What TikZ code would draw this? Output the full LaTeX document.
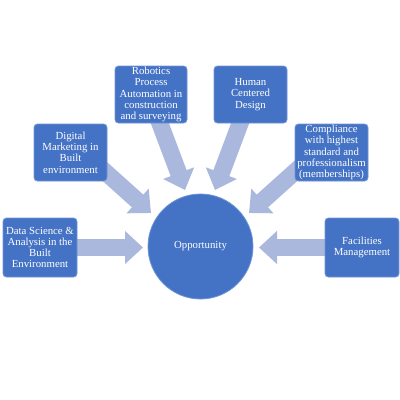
\documentclass[tikz,border=0pt]{standalone}
\usepackage{fontspec}
\setmainfont{Liberation Serif}
\usetikzlibrary{arrows.meta}
\definecolor{boxblue}{HTML}{4472C4}
\definecolor{boxedge}{HTML}{6F95D6}
\definecolor{arrowc}{HTML}{A9B8DC}
\tikzset{
  box/.style={draw=boxedge, line width=0.8pt, fill=boxblue, rounded corners=3.5pt,
    text=white, align=center, inner sep=0pt, font=\fontsize{10.8}{11.3}\selectfont},
  hub/.style={circle, draw=boxedge, line width=0.8pt, fill=boxblue, text=white,
    minimum size=105pt, inner sep=0pt, font=\fontsize{10.8}{12}\selectfont},
  fat/.style={draw=arrowc, line width=17pt, -{Triangle[width=32pt,length=18pt]}},
}
\begin{document}
\begin{tikzpicture}[x=1pt,y=-1pt]
\useasboundingbox (0,0) rectangle (400,400);
\fill[white] (0,0) rectangle (400,400);
% arrow coordinates
\coordinate (ds-s) at (70,247.5);
\coordinate (ds-t) at (143,247.5);
\coordinate (dm-s) at (92,160);
\coordinate (dm-t) at (151,213);
\coordinate (rp-s) at (156,113);
\coordinate (rp-t) at (185,190);
\coordinate (hc-s) at (244,113);
\coordinate (hc-t) at (215,190);
\coordinate (co-s) at (308,160);
\coordinate (co-t) at (249,213);
\coordinate (fm-s) at (332,247.5);
\coordinate (fm-t) at (259,247.5);
\draw[fat] (ds-s) -- (ds-t);
\draw[fat] (dm-s) -- (dm-t);
\draw[fat] (rp-s) -- (rp-t);
\draw[fat] (hc-s) -- (hc-t);
\draw[fat] (co-s) -- (co-t);
\draw[fat] (fm-s) -- (fm-t);
% hub
\node[hub] (opp) at (200.5,246.5) {Opportunity};
% boxes
\node[box, minimum width=74pt, minimum height=59pt] (ds) at (40,247.5)
  {Data Science \&\\Analysis in the\\Built\\Environment};
\node[box, minimum width=73pt, minimum height=57pt] (dm) at (70.5,152.5)
  {Digital\\Marketing in\\Built\\environment};
\node[box, minimum width=72pt, minimum height=57pt] (rp) at (151,94.5)
  {Robotics\\Process\\Automation in\\construction\\and surveying};
\node[box, minimum width=73pt, minimum height=57pt] (hc) at (250.5,94.5)
  {Human\\Centered\\Design};
\node[box, minimum width=73pt, minimum height=57pt] (co) at (331.5,152.5)
  {Compliance\\with highest\\standard and\\professionalism\\(memberships)};
\node[box, minimum width=74pt, minimum height=59pt] (fm) at (362,247.5)
  {Facilities\\Management};
\end{tikzpicture}
\end{document}
